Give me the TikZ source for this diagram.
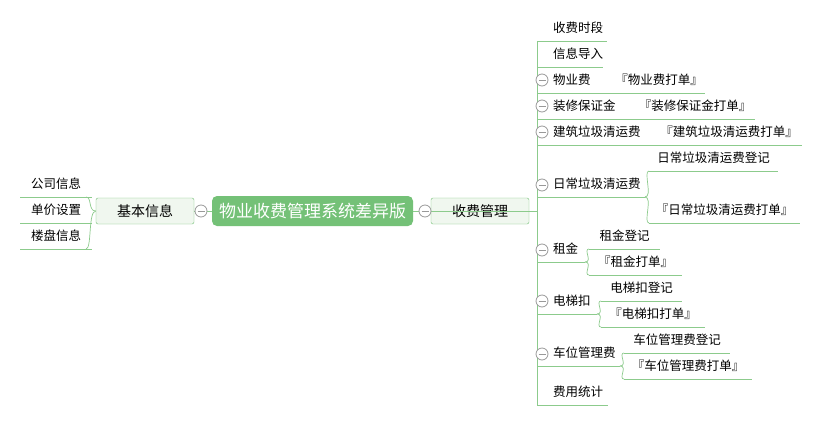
\documentclass[tikz,border=0pt]{standalone}
\usepackage{fontspec}
\setmainfont{Noto Sans CJK SC}
\definecolor{mapgreen}{HTML}{74C177}
\definecolor{linegreen}{HTML}{8CCB8C}
\definecolor{boxfill}{HTML}{F0F7EF}
\tikzset{
  link/.style={linegreen,line width=0.7pt},
  leaf/.style={inner sep=0pt,font=\fontsize{12.5}{14}\selectfont},
  topic/.style={draw=mapgreen,fill=boxfill,rounded corners=2pt,minimum width=98pt,minimum height=26pt,font=\fontsize{14}{16}\selectfont},
  fold/.style={circle,draw=black!40,fill=white,inner sep=0pt,minimum size=12pt,thick,
    path picture={\draw[black!40,thick] ([xshift=-3.5pt]path picture bounding box.center) -- ([xshift=3.5pt]path picture bounding box.center);}}
}
% name, x from, x to, y of underline, text
\newcommand*{\leaf}[5]{%
  \node[leaf] (#1) at ({(#2+#3)/2},#4-13) {#5};
  \draw[link] (#2,#4) -- (#3,#4);}
\newcommand*{\branch}[4]{%
  \node[leaf,anchor=west] (#1) at (553,#3-13) {#4};
  \draw[link] (537,#3) -- (#2,#3);}
\newcommand*{\fork}[4]{% x, parent line, upper line, lower line
  \draw[link] (#1,#2) .. controls (#1+8,#2) and (#1-2,#3) .. (#1+4,#3);
  \draw[link] (#1,#2) .. controls (#1+8,#2) and (#1-2,#4) .. (#1+4,#4);}

\begin{document}
\begin{tikzpicture}[x=1pt,y=-1pt]
\useasboundingbox (0,0) rectangle (822,426);
\fill[white] (0,0) rectangle (822,426);
% root
\node[fill=mapgreen,rounded corners=5pt,minimum width=201pt,minimum height=30pt,
  text=white,font=\fontsize{17}{20}\selectfont] (root) at (312.5,211) {物业收费管理系统差异版};
\node[topic] (basic) at (145,211) {基本信息};
\node[topic] (fee) at (480,211) {收费管理};
\draw[link] (root.west) -- (basic.east);
\draw[link] (root.east) -- (fee.east);
\draw[link] (fee.east) -- (537,211);
\node[fold] (fb) at (201,211) {};
\node[fold] (ff) at (425,211) {};
% left side
\leaf{company}{20}{92}{197}{公司信息}
\leaf{price}{20}{92}{223}{单价设置}
\leaf{building}{20}{92}{249}{楼盘信息}
\draw[link] (basic.west) .. controls (88,211) and (92,197) .. (86,197);
\draw[link] (basic.west) .. controls (88,211) and (92,249) .. (86,249);
% trunk
\draw[link] (537,41) -- (537,405);
\branch{period}{607}{41}{收费时段}
\branch{import}{603}{67}{信息导入}
\branch{prop}{705}{93}{物业费}
\node[leaf] (propp) at (659,80) {『物业费打单』};
\branch{deco}{755}{119}{装修保证金}
\node[leaf] (decop) at (695,106) {『装修保证金打单』};
\branch{cons}{802}{145}{建筑垃圾清运费}
\node[leaf] (consp) at (729,132) {『建筑垃圾清运费打单』};
\branch{daily}{645}{197}{日常垃圾清运费}
\leaf{dailyr}{649}{778}{171}{日常垃圾清运费登记}
\leaf{dailyp}{649}{800}{223}{『日常垃圾清运费打单』}
\fork{645}{197}{171}{223}
\branch{rent}{585}{262}{租金}
\leaf{rentr}{589}{660}{249}{租金登记}
\leaf{rentp}{589}{682}{275}{『租金打单』}
\fork{585}{262}{249}{275}
\branch{lift}{597}{314}{电梯扣}
\leaf{liftr}{601}{682}{301}{电梯扣登记}
\leaf{liftp}{601}{705}{327}{『电梯扣打单』}
\fork{597}{314}{301}{327}
\branch{park}{620}{366}{车位管理费}
\leaf{parkr}{624}{730}{353}{车位管理费登记}
\leaf{parkp}{624}{752}{379}{『车位管理费打单』}
\fork{620}{366}{353}{379}
\branch{stat}{608}{405}{费用统计}
\foreach \n/\y in {prop/80,deco/106,cons/132,daily/185,rent/250,lift/301,park/354}
  \node[fold] (f\n) at (542,\y) {};
\end{tikzpicture}
\end{document}
